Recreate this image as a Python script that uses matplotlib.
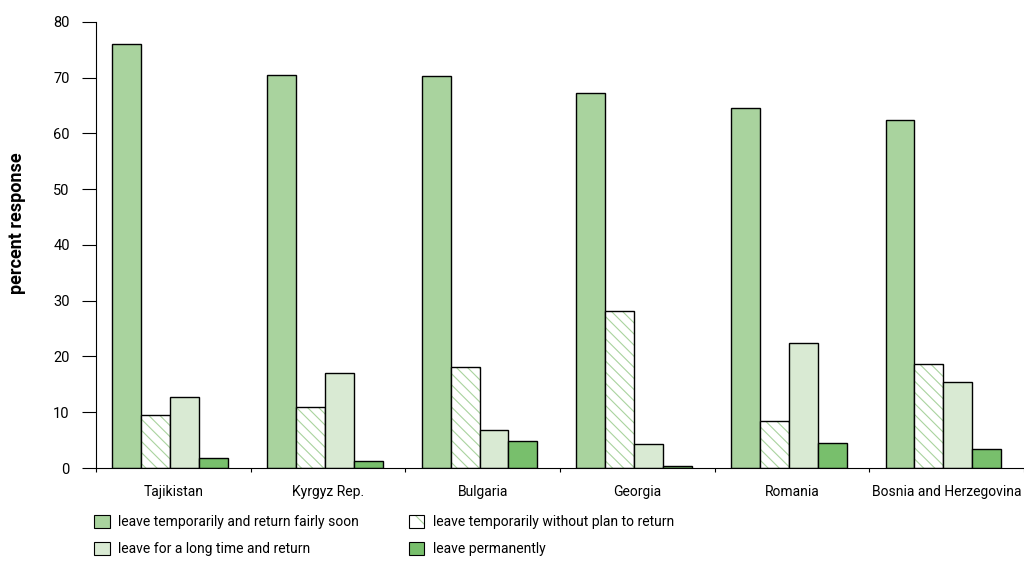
import numpy as np
import matplotlib.pyplot as plt
from matplotlib.patches import Patch

plt.rcParams['font.family'] = ['Roboto', 'DejaVu Sans']
plt.rcParams['hatch.linewidth'] = 0.8

countries = ["Tajikistan", "Kyrgyz Rep.", "Bulgaria", "Georgia", "Romania", "Bosnia and Herzegovina"]
soon = [76.0, 70.5, 70.2, 67.3, 64.5, 62.4]
no_return = [9.5, 11.0, 18.1, 28.2, 8.5, 18.7]
long_time = [12.8, 17.1, 6.9, 4.3, 22.5, 15.5]
permanent = [1.8, 1.3, 4.8, 0.3, 4.5, 3.5]

labels = ["leave temporarily and return fairly soon",
          "leave temporarily without plan to return",
          "leave for a long time and return",
          "leave permanently"]
c_soon = "#a9d39e"
c_long = "#d9ead3"
c_perm = "#78bf6c"
c_hatch = "#a9d39e"

fig = plt.figure(figsize=(10.24, 5.88), dpi=100)
ax = fig.add_axes([0.0938, 0.204, 0.906, 0.759])

x = np.arange(len(countries))
w = 0.187
off = -0.02

ax.bar(x + off - 1.5 * w, soon, w, color=c_soon, edgecolor="black", linewidth=1)
# hatched bar: hatch drawn in green, then a black outline on top
ax.bar(x + off - 0.5 * w, no_return, w, color="white", edgecolor=c_hatch, hatch="\\\\\\", linewidth=0)
ax.bar(x + off - 0.5 * w, no_return, w, fill=False, edgecolor="black", linewidth=1)
ax.bar(x + off + 0.5 * w, long_time, w, color=c_long, edgecolor="black", linewidth=1)
ax.bar(x + off + 1.5 * w, permanent, w, color=c_perm, edgecolor="black", linewidth=1)

ax.set_xlim(-0.5, len(countries) - 0.5)
ax.set_ylim(0, 80)
ax.set_yticks(range(0, 81, 10))
ax.set_xticks(np.arange(-0.5, len(countries)), minor=False)
ax.set_xticklabels([])
ax.set_xticks(x, minor=True)
ax.set_xticklabels(countries, minor=True, fontsize=10)
ax.tick_params(axis="x", which="minor", length=0, pad=12)
ax.tick_params(axis="x", which="major", length=3, direction="out")
ax.tick_params(axis="y", length=10, labelsize=10.5, pad=9)
ax.spines["top"].set_visible(False)
ax.spines["right"].set_visible(False)
fig.text(17 / 1024, 1 - 223 / 588, "percent response", rotation=90, ha="center", va="center",
         fontsize=13, fontweight="bold")

hatch_handle = (Patch(facecolor="white", edgecolor=c_hatch, hatch="\\", linewidth=0),
                Patch(fill=False, edgecolor="black", linewidth=0.8))
handles = [Patch(facecolor=c_soon, edgecolor="black", linewidth=0.8),
           hatch_handle,
           Patch(facecolor=c_long, edgecolor="black", linewidth=0.8),
           Patch(facecolor=c_perm, edgecolor="black", linewidth=0.8)]
order = [0, 2, 1, 3]
fig.legend([handles[i] for i in order], [labels[i] for i in order], ncol=2,
           loc="upper left", bbox_to_anchor=(0.08, 0.146), frameon=False,
           fontsize=10, handlelength=1.1, handleheight=1.1, columnspacing=3.6,
           handletextpad=0.6, labelspacing=0.9)

fig.savefig("out.png", dpi=100)
